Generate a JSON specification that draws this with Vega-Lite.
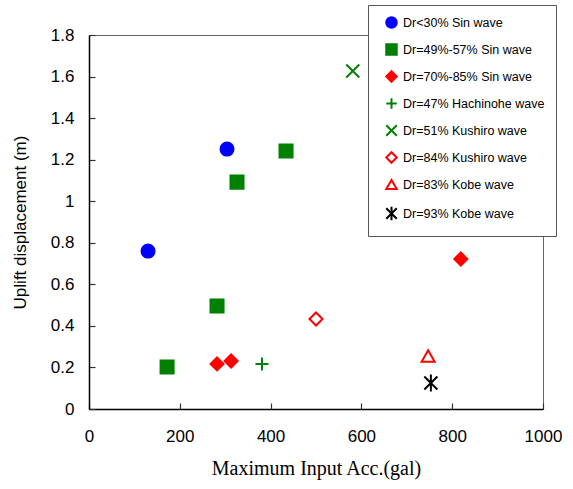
{
  "$schema": "https://vega.github.io/schema/vega-lite/v6.json",
  "autosize": "none",
  "width": 454,
  "height": 374,
  "padding": {"left": 89, "top": 35, "right": 30, "bottom": 80},
  "background": "white",
  "config": {
    "view": {"stroke": "#666666", "strokeWidth": 1},
    "axis": {
      "labelFont": "Liberation Sans",
      "labelColor": "black",
      "grid": false,
      "domainColor": "black",
      "domainWidth": 1.5,
      "tickColor": "#333333",
      "tickWidth": 1.2
    }
  },
  "data": {
    "values": [
      {"series": "Dr<30% Sin wave", "acc": 130, "uplift": 0.76},
      {"series": "Dr<30% Sin wave", "acc": 304, "uplift": 1.251},
      {"series": "Dr=49%-57% Sin wave", "acc": 172, "uplift": 0.202},
      {"series": "Dr=49%-57% Sin wave", "acc": 282, "uplift": 0.496},
      {"series": "Dr=49%-57% Sin wave", "acc": 326, "uplift": 1.092},
      {"series": "Dr=49%-57% Sin wave", "acc": 434, "uplift": 1.242},
      {"series": "Dr=70%-85% Sin wave", "acc": 282, "uplift": 0.217},
      {"series": "Dr=70%-85% Sin wave", "acc": 313, "uplift": 0.231},
      {"series": "Dr=70%-85% Sin wave", "acc": 819, "uplift": 0.722},
      {"series": "Dr=47% Hachinohe wave", "acc": 381, "uplift": 0.217},
      {"series": "Dr=51% Kushiro wave", "acc": 581, "uplift": 1.627},
      {"series": "Dr=84% Kushiro wave", "acc": 500, "uplift": 0.433},
      {"series": "Dr=83% Kobe wave", "acc": 747, "uplift": 0.255},
      {"series": "Dr=93% Kobe wave", "acc": 753, "uplift": 0.125}
    ]
  },
  "mark": {"type": "point", "strokeWidth": 2, "opacity": 1, "size": 170},
  "encoding": {
    "x": {
      "field": "acc",
      "type": "quantitative",
      "scale": {"domain": [0, 1000], "nice": false, "zero": true},
      "axis": {
        "title": "Maximum Input Acc.(gal)",
        "titleFont": "Liberation Serif",
        "titleFontSize": 20,
        "titleFontWeight": "normal",
        "titleColor": "black",
        "titlePadding": 14,
        "values": [0, 200, 400, 600, 800, 1000],
        "format": "d",
        "labelFontSize": 17,
        "labelPadding": 25,
        "tickSize": -6,
        "labelFlush": false,
        "labelOverlap": false
      }
    },
    "y": {
      "field": "uplift",
      "type": "quantitative",
      "scale": {"domain": [0, 1.8], "nice": false},
      "axis": {
        "title": "Uplift displacement (m)",
        "titleFont": "Liberation Sans",
        "titleFontSize": 17,
        "titleFontWeight": "normal",
        "titleColor": "black",
        "titlePadding": 21,
        "values": [0, 0.2, 0.4, 0.6, 0.8, 1, 1.2, 1.4, 1.6, 1.8],
        "format": "~g",
        "labelFontSize": 17,
        "labelPadding": 21,
        "tickSize": -6,
        "labelFlush": false,
        "labelOverlap": false
      }
    },
    "shape": {
      "field": "series",
      "type": "nominal",
      "scale": {
        "domain": ["Dr<30% Sin wave", "Dr=49%-57% Sin wave", "Dr=70%-85% Sin wave", "Dr=47% Hachinohe wave", "Dr=51% Kushiro wave", "Dr=84% Kushiro wave", "Dr=83% Kobe wave", "Dr=93% Kobe wave"],
        "range": ["circle", "square", "diamond", "M-1,0L1,0M0,-1L0,1", "M-1,-1L1,1M-1,1L1,-1", "diamond", "triangle-up", "M-1,-1L1,1M-1,1L1,-1M0,-1.3L0,1.3"]
      },
      "legend": {
        "title": null,
        "orient": "none",
        "legendX": 279,
        "legendY": -30,
        "padding": 11,
        "fillColor": "white",
        "strokeColor": "#555555",
        "symbolSize": 110,
        "symbolStrokeWidth": 2,
        "symbolOffset": 6,
        "labelFont": "Liberation Sans",
        "labelFontSize": 12.5,
        "labelColor": "black",
        "labelOffset": 5,
        "rowPadding": 8,
        "labelLimit": 300
      }
    },
    "fill": {
      "field": "series",
      "type": "nominal",
      "scale": {
        "domain": ["Dr<30% Sin wave", "Dr=49%-57% Sin wave", "Dr=70%-85% Sin wave", "Dr=47% Hachinohe wave", "Dr=51% Kushiro wave", "Dr=84% Kushiro wave", "Dr=83% Kobe wave", "Dr=93% Kobe wave"],
        "range": ["#0000ff", "#008000", "#ff0000", "transparent", "transparent", "transparent", "transparent", "transparent"]
      },
      "legend": {"title": null}
    },
    "stroke": {
      "field": "series",
      "type": "nominal",
      "scale": {
        "domain": ["Dr<30% Sin wave", "Dr=49%-57% Sin wave", "Dr=70%-85% Sin wave", "Dr=47% Hachinohe wave", "Dr=51% Kushiro wave", "Dr=84% Kushiro wave", "Dr=83% Kobe wave", "Dr=93% Kobe wave"],
        "range": ["#0000ff", "#008000", "#ff0000", "#008000", "#008000", "#ff0000", "#ff0000", "#000000"]
      },
      "legend": {"title": null}
    }
  }
}
